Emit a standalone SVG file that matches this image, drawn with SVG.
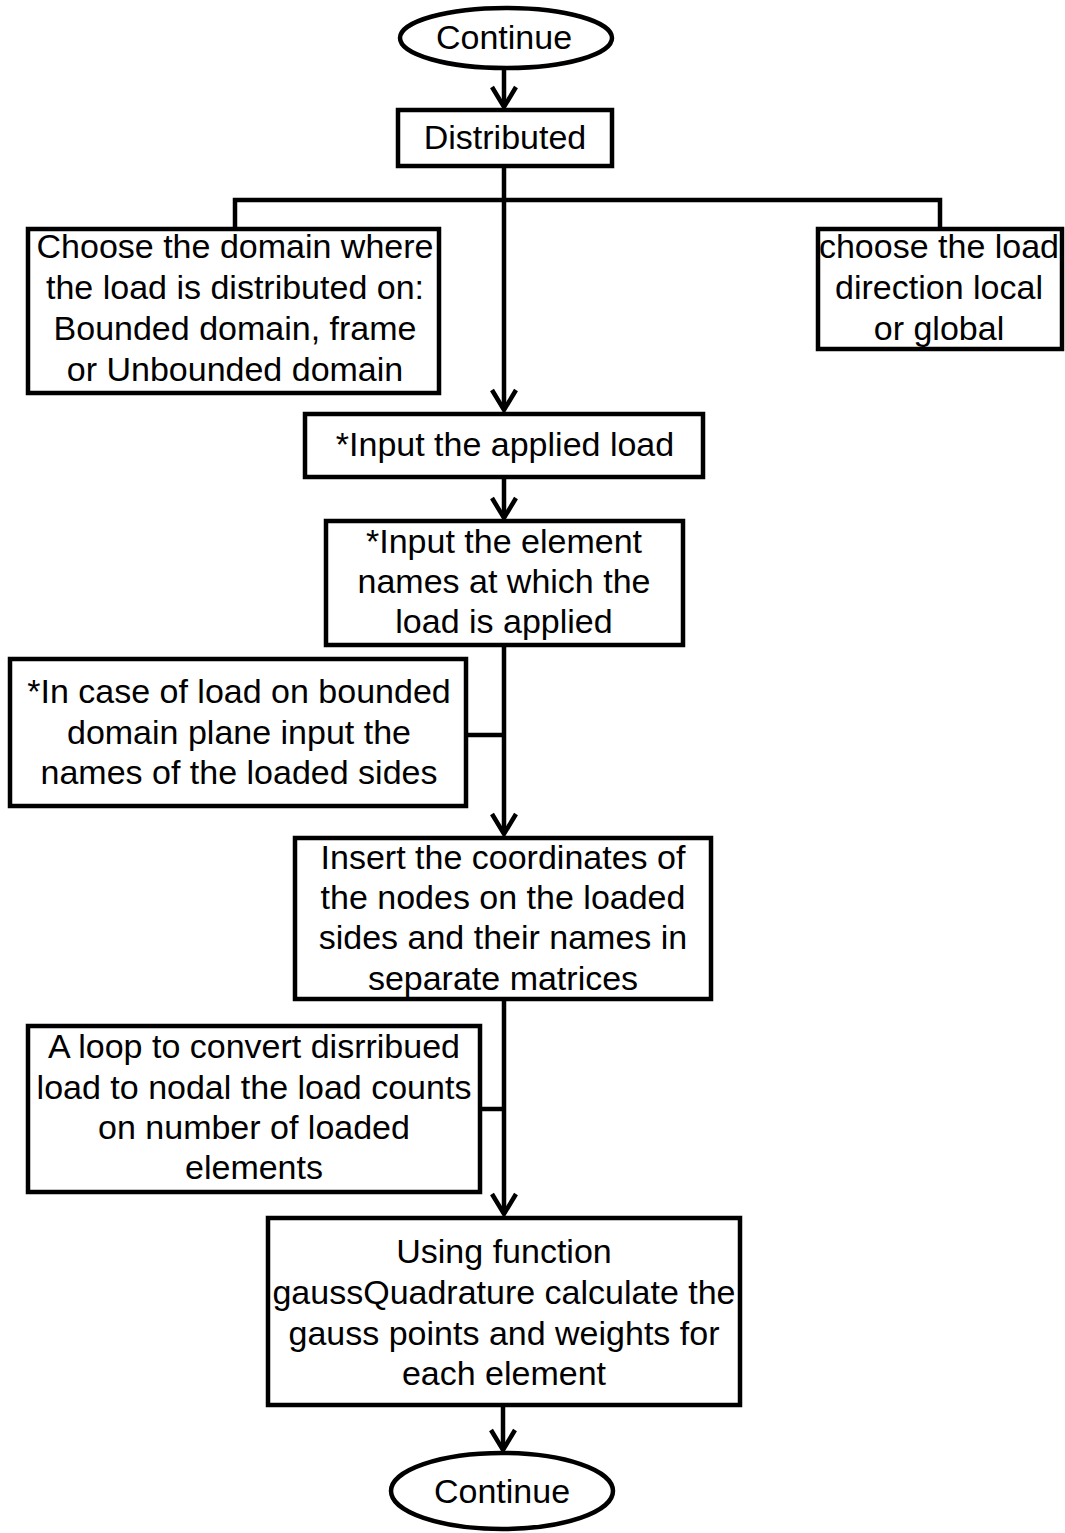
<svg xmlns="http://www.w3.org/2000/svg" width="1065" height="1533" viewBox="0 0 1065 1533">
  <style>
    .box { fill: #ffffff; stroke: #000000; stroke-width: 4.5; }
    .term { fill: #ffffff; stroke: #000000; stroke-width: 4.5; }
    .wire { fill: none; stroke: #000000; stroke-width: 4.5; }
    .head { fill: none; stroke: #000000; stroke-width: 4.5; stroke-linejoin: miter; }
    text { font-family: "Liberation Sans", Arial, sans-serif; font-size: 34px; fill: #000000; text-anchor: middle; }
  </style>
  <defs>
    <marker id="arrow" markerUnits="userSpaceOnUse" markerWidth="40" markerHeight="40" refX="0" refY="0" orient="auto" overflow="visible">
      <path class="head" d="M -20 -12 L 0 0 L -20 12"/>
    </marker>
  </defs>
  <rect width="1065" height="1533" fill="#ffffff"/>

  <!-- connectors -->
  <g id="connectors">
    <line class="wire" x1="504" y1="68" x2="504" y2="107" marker-end="url(#arrow)"/>
    <line class="wire" x1="504" y1="167" x2="504" y2="410" marker-end="url(#arrow)"/>
    <polyline class="wire" points="235,230 235,200 940,200 940,230"/>
    <line class="wire" x1="504" y1="477" x2="504" y2="518" marker-end="url(#arrow)"/>
    <line class="wire" x1="504" y1="645" x2="504" y2="834" marker-end="url(#arrow)"/>
    <line class="wire" x1="466" y1="735" x2="504" y2="735"/>
    <line class="wire" x1="504" y1="999" x2="504" y2="1214" marker-end="url(#arrow)"/>
    <line class="wire" x1="480" y1="1109" x2="504" y2="1109"/>
    <line class="wire" x1="503" y1="1405" x2="503" y2="1450" marker-end="url(#arrow)"/>
  </g>

  <!-- start terminal -->
  <g id="start">
    <ellipse class="term" cx="506" cy="38" rx="106" ry="30"/>
    <text x="504" y="49">Continue</text>
  </g>

  <g id="distributed">
    <rect class="box" x="398" y="110" width="214" height="56"/>
    <text x="505" y="149">Distributed</text>
  </g>

  <g id="domain">
    <rect class="box" x="28" y="229" width="411" height="164"/>
    <text x="235" y="258">Choose the domain where</text>
    <text x="235" y="299">the load is distributed on:</text>
    <text x="235" y="340">Bounded domain, frame</text>
    <text x="235" y="381">or Unbounded domain</text>
  </g>

  <g id="direction">
    <rect class="box" x="818" y="229" width="244" height="120"/>
    <text x="939" y="258">choose the load</text>
    <text x="939" y="299">direction local</text>
    <text x="939" y="340">or global</text>
  </g>

  <g id="applied-load">
    <rect class="box" x="305" y="414" width="398" height="63"/>
    <text x="505" y="456">*Input the applied load</text>
  </g>

  <g id="element-names">
    <rect class="box" x="326" y="521" width="357" height="124"/>
    <text x="504" y="553">*Input the element</text>
    <text x="504" y="593">names at which the</text>
    <text x="504" y="633">load is applied</text>
  </g>

  <g id="loaded-sides">
    <rect class="box" x="10" y="659" width="456" height="147"/>
    <text x="239" y="703">*In case of load on bounded</text>
    <text x="239" y="744">domain plane input the</text>
    <text x="239" y="784">names of the loaded sides</text>
  </g>

  <g id="coordinates">
    <rect class="box" x="295" y="838" width="416" height="161"/>
    <text x="503" y="869">Insert the coordinates of</text>
    <text x="503" y="909">the nodes on the loaded</text>
    <text x="503" y="949">sides and their names in</text>
    <text x="503" y="990">separate matrices</text>
  </g>

  <g id="loop">
    <rect class="box" x="28" y="1026" width="452" height="166"/>
    <text x="254" y="1058">A loop to convert disrribued</text>
    <text x="254" y="1099">load to nodal the load counts</text>
    <text x="254" y="1139">on number of loaded</text>
    <text x="254" y="1179">elements</text>
  </g>

  <g id="gauss">
    <rect class="box" x="268" y="1218" width="472" height="187"/>
    <text x="504" y="1263">Using function</text>
    <text x="504" y="1304">gaussQuadrature calculate the</text>
    <text x="504" y="1345">gauss points and weights for</text>
    <text x="504" y="1385">each element</text>
  </g>

  <!-- end terminal -->
  <g id="end">
    <ellipse class="term" cx="502" cy="1491" rx="111" ry="38"/>
    <text x="502" y="1503">Continue</text>
  </g>
</svg>
